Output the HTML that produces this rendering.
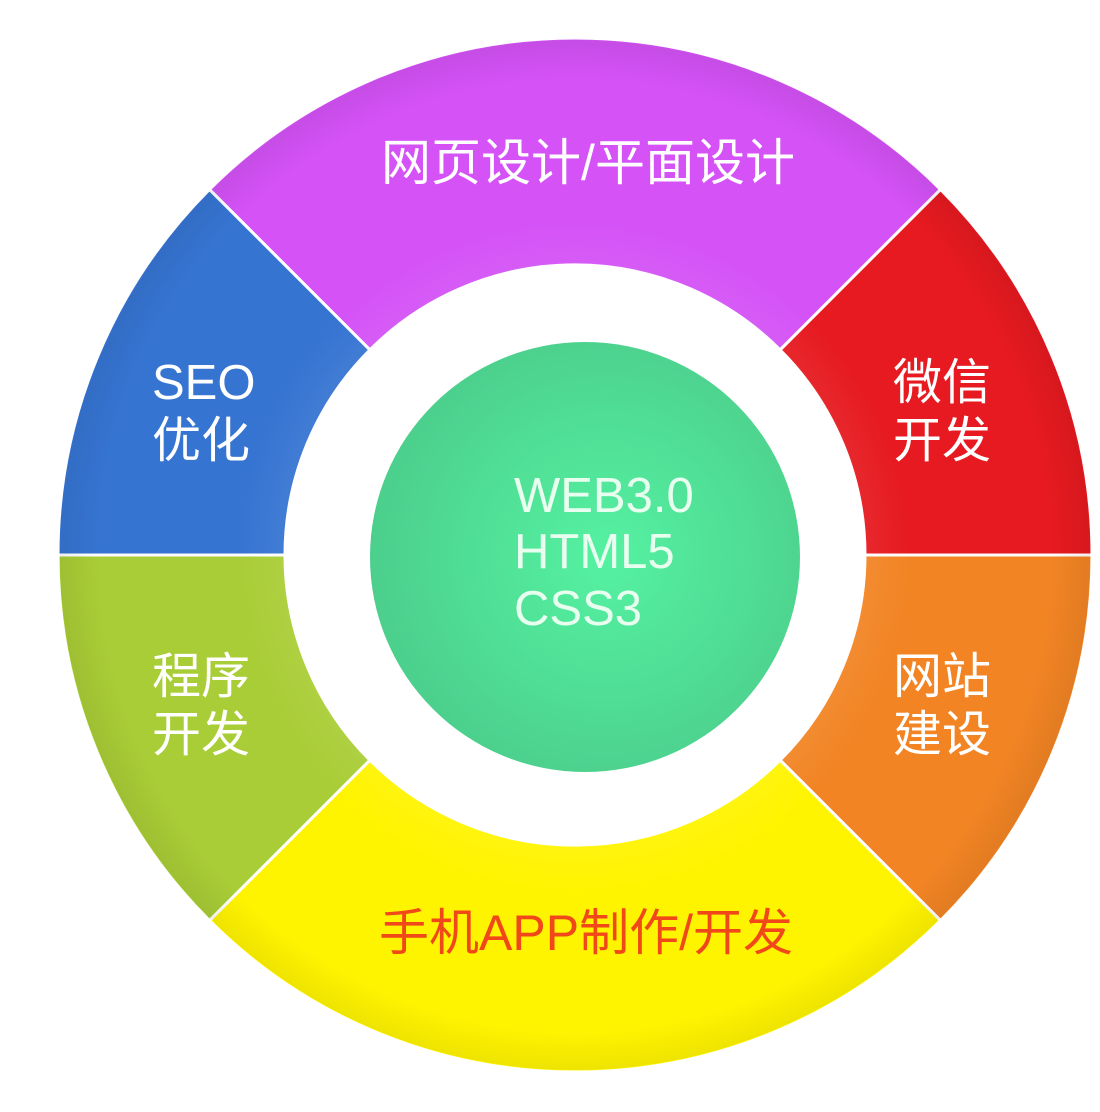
<!DOCTYPE html>
<html><head><meta charset="utf-8"><style>
html,body{margin:0;padding:0;background:#fff;}
svg{display:block;}
text{font-family:"Liberation Sans","Noto Sans CJK SC",sans-serif;}
</style></head><body>
<svg width="1100" height="1112" viewBox="0 0 1100 1112">
<defs>
<radialGradient id="gC" cx="0.55" cy="0.5" r="0.55">
<stop offset="0" stop-color="#55f2a2"/><stop offset="1" stop-color="#4ccf8c"/></radialGradient>
<radialGradient id="ring" cx="575" cy="555" r="517" gradientUnits="userSpaceOnUse">
<stop offset="0.56" stop-color="#fff" stop-opacity="0.06"/>
<stop offset="0.65" stop-color="#fff" stop-opacity="0"/>
<stop offset="0.92" stop-color="#000" stop-opacity="0"/>
<stop offset="1" stop-color="#000" stop-opacity="0.07"/>
</radialGradient>
</defs>
<g stroke="#fff" stroke-width="3">
<path d="M940.6 189.4 A517 517 0 0 0 209.4 189.4 L369.9 349.9 A290 290 0 0 1 780.1 349.9 Z" fill="#d452f6"/>
<path d="M1092 555 A517 517 0 0 0 940.6 189.4 L780.1 349.9 A290 290 0 0 1 865 555 Z" fill="#e61a20"/>
<path d="M940.6 920.6 A517 517 0 0 0 1092 555 L865 555 A290 290 0 0 1 780.1 760.1 Z" fill="#f28424"/>
<path d="M209.4 920.6 A517 517 0 0 0 940.6 920.6 L780.1 760.1 A290 290 0 0 1 369.9 760.1 Z" fill="#fff400"/>
<path d="M58 555 A517 517 0 0 0 209.4 920.6 L369.9 760.1 A290 290 0 0 1 285 555 Z" fill="#a9cd36"/>
<path d="M209.4 189.4 A517 517 0 0 0 58 555 L285 555 A290 290 0 0 1 369.9 349.9 Z" fill="#3674d2"/>
</g>
<circle cx="575" cy="555" r="515" fill="url(#ring)"/>
<circle cx="575" cy="555" r="289" fill="#fff"/>
<circle cx="585" cy="557" r="215" fill="url(#gC)"/>
<g fill="#fff" font-size="49">
<text x="588" y="180" text-anchor="middle" font-size="50">网页设计/平面设计</text>
<text x="893" y="399">微信</text><text x="893" y="457">开发</text>
<text x="893" y="693">网站</text><text x="893" y="751">建设</text>
<text x="152" y="693">程序</text><text x="152" y="751">开发</text>
<text x="152" y="399">SEO</text><text x="152" y="457">优化</text>
</g>
<text x="586" y="950" text-anchor="middle" font-size="50" fill="#f04818">手机APP制作/开发</text>
<g fill="#e8fff0" font-size="49">
<text x="514" y="512">WEB3.0</text>
<text x="514" y="568">HTML5</text>
<text x="514" y="625">CSS3</text>
</g>
</svg>
</body></html>
